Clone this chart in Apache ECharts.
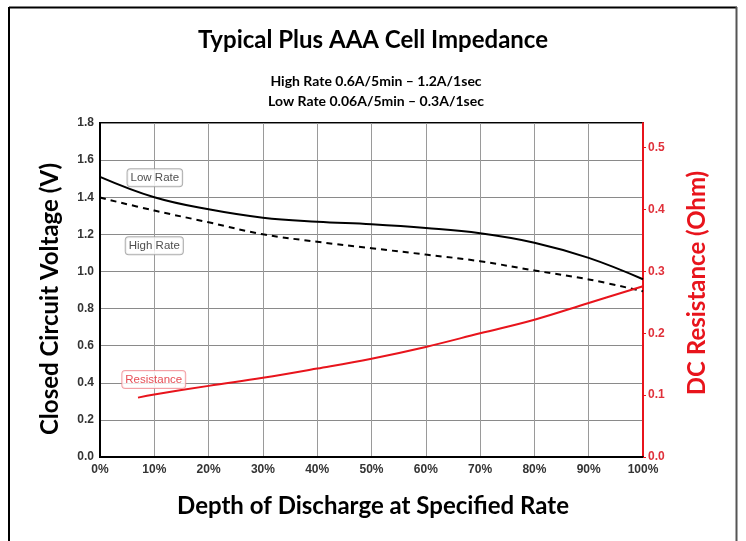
<!DOCTYPE html>
<html>
<head>
<meta charset="utf-8">
<script src="https://cdn.jsdelivr.net/npm/echarts@6/dist/echarts.min.js"></script>
<style>html,body{margin:0;padding:0;background:#fff;}#c{width:746px;height:541px;}</style>
</head>
<body>
<div id="c"></div>
<script>
// ---- data ----
const pct = [0, 10, 20, 30, 40, 50, 60, 70, 80, 90, 100];
const lowRate = [1.51, 1.40, 1.335, 1.29, 1.268, 1.254, 1.234, 1.206, 1.155, 1.073, 0.958];
const highRate = [1.398, 1.328, 1.265, 1.20, 1.16, 1.125, 1.091, 1.055, 1.005, 0.957, 0.893];
const resPct = [7, 10, 20, 30, 40, 50, 60, 70, 80, 90, 100];
const resistance = [0.096, 0.101, 0.115, 0.128, 0.143, 0.159, 0.178, 0.20, 0.222, 0.249, 0.276];
const xTicks = [0, 10, 20, 30, 40, 50, 60, 70, 80, 90, 100];
const leftTicks = [0, 0.2, 0.4, 0.6, 0.8, 1.0, 1.2, 1.4, 1.6, 1.8];
const rightTicks = [0, 0.1, 0.2, 0.3, 0.4, 0.5];
const annoText = ['Low Rate', 'High Rate', 'Resistance'];
const annoX = [10.1, 10, 9.9];
const annoY = [1.505, 1.139, 0.417];

const narrow = "'Liberation Sans Narrow', 'Liberation Sans', Arial, sans-serif";
const cal = "Lato, 'Open Sans', sans-serif";
const red = '#e8141c';

const chart = echarts.init(document.getElementById('c'));
const zip = (xs, ys) => xs.map((x, i) => [x, ys[i]]);

chart.setOption({
  animation: false,
  backgroundColor: '#fff',
  grid: { left: 100, right: 103, top: 123, bottom: 84, show: true, borderColor: '#000', borderWidth: 2, backgroundColor: 'transparent' },
  title: [
    { text: 'Typical Plus AAA Cell Impedance', left: 'center', top: 23,
      textStyle: { fontFamily: cal, fontWeight: 'bold', fontSize: 24, color: '#000' } }
  ],
  xAxis: {
    type: 'value', min: 0, max: 100, interval: 10,
    axisLine: { show: true, lineStyle: { color: '#000', width: 2 } },
    axisTick: { show: false },
    axisLabel: { formatter: v => xTicks.includes(v) ? v + '%' : '', fontFamily: narrow, fontWeight: 'bold', fontSize: 12, color: '#333', margin: 7 },
    splitLine: { show: true, lineStyle: { color: '#9a9a9a', width: 1 } }
  },
  yAxis: [
    {
      type: 'value', min: 0, max: 1.8, interval: 0.2, position: 'left',
      axisLine: { show: true, lineStyle: { color: '#000', width: 2 } },
      axisTick: { show: false },
      axisLabel: { formatter: v => leftTicks.some(t => Math.abs(t - v) < 1e-6) ? v.toFixed(1) : '', fontFamily: narrow, fontWeight: 'bold', fontSize: 12, color: '#333', margin: 6 },
      splitLine: { show: true, lineStyle: { color: '#8a8a8a', width: 1 } }
    },
    {
      type: 'value', min: 0, max: 0.54, interval: 0.1, position: 'right',
      axisLine: { show: true, lineStyle: { color: red, width: 2 } },
      axisTick: { show: true, length: 3, lineStyle: { color: red, width: 1 } },
      axisLabel: { showMaxLabel: false, formatter: v => rightTicks.some(t => Math.abs(t - v) < 1e-6) ? v.toFixed(1) : '', fontFamily: narrow, fontWeight: 'bold', fontSize: 12, color: '#e0303a', margin: 5 },
      splitLine: { show: false }
    }
  ],
  series: [
    { name: 'Low Rate', type: 'line', smooth: 0.4, symbol: 'none', data: zip(pct, lowRate),
      lineStyle: { color: '#000', width: 2 }, z: 3 },
    { name: 'High Rate', type: 'line', smooth: 0.4, symbol: 'none', data: zip(pct, highRate),
      lineStyle: { color: '#000', width: 2, type: [6, 5] }, z: 3 },
    { name: 'Resistance', type: 'line', smooth: 0.4, symbol: 'none', yAxisIndex: 1, data: zip(resPct, resistance),
      lineStyle: { color: red, width: 2 }, z: 3 },
    { type: 'scatter', symbolSize: 0, z: 5,
      data: annoText.map((t, i) => ({
        value: [annoX[i], annoY[i]],
        label: {
          show: true, position: 'inside', formatter: t,
          fontFamily: narrow, fontSize: 11.5, color: i === 2 ? '#e0202a' : '#222',
          backgroundColor: '#fff', borderColor: i === 2 ? '#f08a90' : '#9a9a9a', borderWidth: 1, borderRadius: 3,
          padding: [3, 3, 2, 3]
        }
      }))
    }
  ],
  graphic: [
    { type: 'line', shape: { x1: 9, y1: 7, x2: 9, y2: 541 }, style: { stroke: '#000', lineWidth: 2 } },
    { type: 'line', shape: { x1: 9, y1: 7.5, x2: 737, y2: 7.5 }, style: { stroke: '#000', lineWidth: 2 } },
    { type: 'line', shape: { x1: 736.5, y1: 7, x2: 736.5, y2: 541 }, style: { stroke: '#555', lineWidth: 2 } },
    { type: 'text', x: 376, y: 81,
      style: { text: 'High Rate 0.6A/5min \u2013 1.2A/1sec', font: "bold 14px " + cal, fill: '#000', textAlign: 'center', textVerticalAlign: 'middle' } },
    { type: 'text', x: 376, y: 101,
      style: { text: 'Low Rate 0.06A/5min \u2013 0.3A/1sec', font: "bold 14px " + cal, fill: '#000', textAlign: 'center', textVerticalAlign: 'middle' } },
    { type: 'text', x: 50, y: 299, rotation: Math.PI / 2,
      style: { text: 'Closed Circuit Voltage (V)', font: "bold 24px " + cal, fill: '#000', textAlign: 'center', textVerticalAlign: 'middle' } },
    { type: 'text', x: 697, y: 283, rotation: Math.PI / 2,
      style: { text: 'DC Resistance (Ohm)', font: "bold 24px " + cal, fill: red, textAlign: 'center', textVerticalAlign: 'middle' } },
    { type: 'text', x: 373, y: 506,
      style: { text: 'Depth of Discharge at Specified Rate', font: "bold 24px " + cal, fill: '#000', textAlign: 'center', textVerticalAlign: 'middle' } }
  ]
});
</script>
</body>
</html>
